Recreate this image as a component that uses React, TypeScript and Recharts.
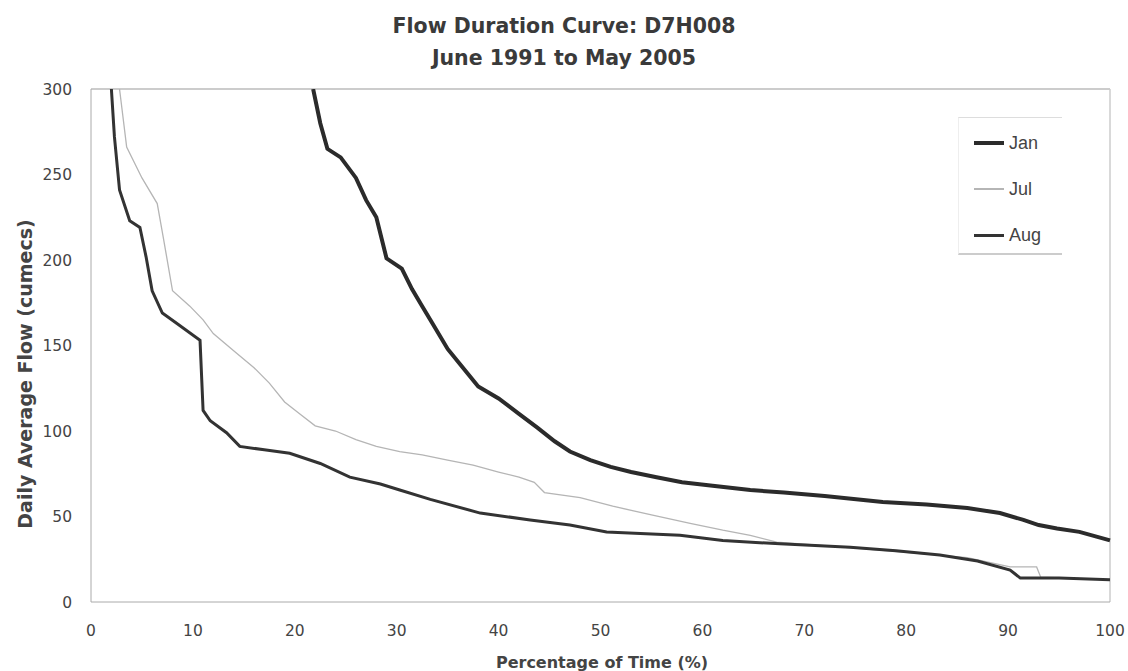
import { LineChart, Line, XAxis, YAxis, ReferenceLine } from 'recharts';

const xTicks = [0, 10, 20, 30, 40, 50, 60, 70, 80, 90, 100];
const yTicks = [0, 50, 100, 150, 200, 250, 300];

// Jan
const janPct = [21.8, 22.5, 23.2, 24.5, 26, 27, 28, 29, 30.5, 31.5, 32.5, 33.5, 35, 36.5, 38, 40, 42, 43.8, 45.5, 47, 49, 51, 53, 55.5, 58, 61, 64.7, 68, 72, 77.7, 82, 86, 89.2, 91.5, 93, 94.8, 97, 100];
const janFlow = [300, 280, 265, 260, 248, 235, 225, 201, 195, 183, 173, 163, 148, 137, 126, 119, 110, 102, 94, 88, 83, 79, 76, 73, 70, 68, 65.5, 64, 62, 58.5, 57, 55, 52, 48, 45, 43, 41, 36];

// Jul
const julPct = [2.8, 3.5, 5, 6.5, 7.1, 8, 9.7, 11, 12, 14, 16, 17.5, 19, 20.5, 22, 24, 26, 28, 30.3, 32.5, 35, 37.5, 40, 42, 43.5, 44.5, 48, 51.2, 55, 58.8, 62, 64.7, 67.3, 72, 80, 86, 90.2, 92.8, 93.2, 96, 100];
const julFlow = [300, 266, 248, 233, 213, 182, 173, 165, 157, 147, 137, 128, 117, 110, 103, 100, 95, 91, 88, 86, 83, 80, 76, 73, 70, 64, 61, 56, 51, 46, 42, 39, 35, 33, 29, 26, 20.5, 20.5, 14.5, 14, 13];

// Aug
const augPct = [2, 2.3, 2.8, 3.8, 4.8, 5.4, 6, 7, 8.4, 10.7, 11, 11.7, 13.3, 14.6, 17, 19.5, 22.5, 25.4, 28.4, 30.3, 33.3, 38.2, 43.1, 47, 50.6, 57.8, 62, 67.6, 74.5, 79, 83.3, 87, 90.2, 91.2, 95, 100];
const augFlow = [300, 272, 241, 223, 219, 202, 182, 169, 163, 153, 112, 106, 99, 91, 89, 87, 81, 73, 69, 65.5, 60, 52, 48, 45, 41, 39, 36, 34, 32, 30, 27.5, 24, 18.7, 14, 14, 13];

const janData = janPct.map((p, i) => ({ pct: p, flow: janFlow[i] }));
const julData = julPct.map((p, i) => ({ pct: p, flow: julFlow[i] }));
const augData = augPct.map((p, i) => ({ pct: p, flow: augFlow[i] }));

const FONT = '"DejaVu Sans", Verdana, sans-serif';

const legendItems = [
  { name: 'Jan', color: '#2b2b2b', width: 4 },
  { name: 'Jul', color: '#b5b5b5', width: 1.3 },
  { name: 'Aug', color: '#333333', width: 3 },
];

const LegendBox = () => (
  <div
    style={{
      position: 'absolute',
      left: 958,
      top: 117,
      width: 104,
      height: 138,
      background: '#fff',
      borderTop: '1px solid #ddd',
      borderLeft: '1px solid #eee',
      borderBottom: '2px solid #ccc',
      boxSizing: 'border-box',
      paddingTop: 2,
      fontFamily: '"Liberation Sans", Arial, sans-serif',
      fontSize: 18,
      color: '#444',
    }}
  >
    {legendItems.map(item => (
      <div key={item.name} style={{ display: 'flex', alignItems: 'center', height: 46 }}>
        <div style={{ width: 30, height: item.width, background: item.color, marginLeft: 15, marginRight: 5 }} />
        <span>{item.name}</span>
      </div>
    ))}
  </div>
);

const YLabel = () => (
  <text
    x={25}
    y={374}
    transform="rotate(-90, 25, 374)"
    textAnchor="middle"
    dominantBaseline="central"
    fontFamily={FONT}
    fontWeight="bold"
    fontSize={19}
    fill="#444"
  >
    Daily Average Flow (cumecs)
  </text>
);

const XLabel = () => (
  <text x={602} y={662} textAnchor="middle" dominantBaseline="central" fontFamily={FONT} fontWeight="bold" fontSize={16} fill="#444">
    Percentage of Time (%)
  </text>
);

const App = () => {
  return (
    <div style={{ position: 'absolute', left: 0, top: 0, width: 1128, height: 671, background: '#fff' }}>
      <div
        style={{
          position: 'absolute',
          left: 0,
          top: 10,
          width: 1128,
          textAlign: 'center',
          fontFamily: FONT,
          fontWeight: 'bold',
          fontSize: 20.5,
          lineHeight: '32px',
          color: '#3a3a3a',
        }}
      >
        <div>Flow Duration Curve: D7H008</div>
        <div>June 1991 to May 2005</div>
      </div>
      <LineChart width={1128} height={671} margin={{ top: 89, right: 18, left: 31, bottom: 19 }}>
        <XAxis
          dataKey="pct"
          type="number"
          domain={[0, 100]}
          ticks={xTicks}
          allowDuplicatedCategory={false}
          height={50}
          tickLine={false}
          tickSize={0}
          tickMargin={23}
          stroke="#aaa"
          tick={{ fill: '#444', fontSize: 15.5, fontFamily: FONT }}
          label={<XLabel />}
        />
        <YAxis
          dataKey="flow"
          type="number"
          domain={[0, 300]}
          ticks={yTicks}
          allowDataOverflow
          width={60}
          tickLine={false}
          tickSize={0}
          tickMargin={19}
          stroke="#aaa"
          tick={{ fill: '#444', fontSize: 15.5, fontFamily: FONT }}
          label={<YLabel />}
        />
        <ReferenceLine y={300} stroke="#bbb" strokeWidth={1.5} />
        <ReferenceLine x={100} stroke="#ccc" strokeWidth={1.5} />
        <Line data={julData} dataKey="flow" name="Jul" type="linear" stroke="#b5b5b5" strokeWidth={1.3} dot={false} isAnimationActive={false} />
        <Line data={augData} dataKey="flow" name="Aug" type="linear" stroke="#333333" strokeWidth={3} dot={false} isAnimationActive={false} />
        <Line data={janData} dataKey="flow" name="Jan" type="linear" stroke="#2b2b2b" strokeWidth={4} dot={false} isAnimationActive={false} />
      </LineChart>
      <LegendBox />
    </div>
  );
};

export default App;
